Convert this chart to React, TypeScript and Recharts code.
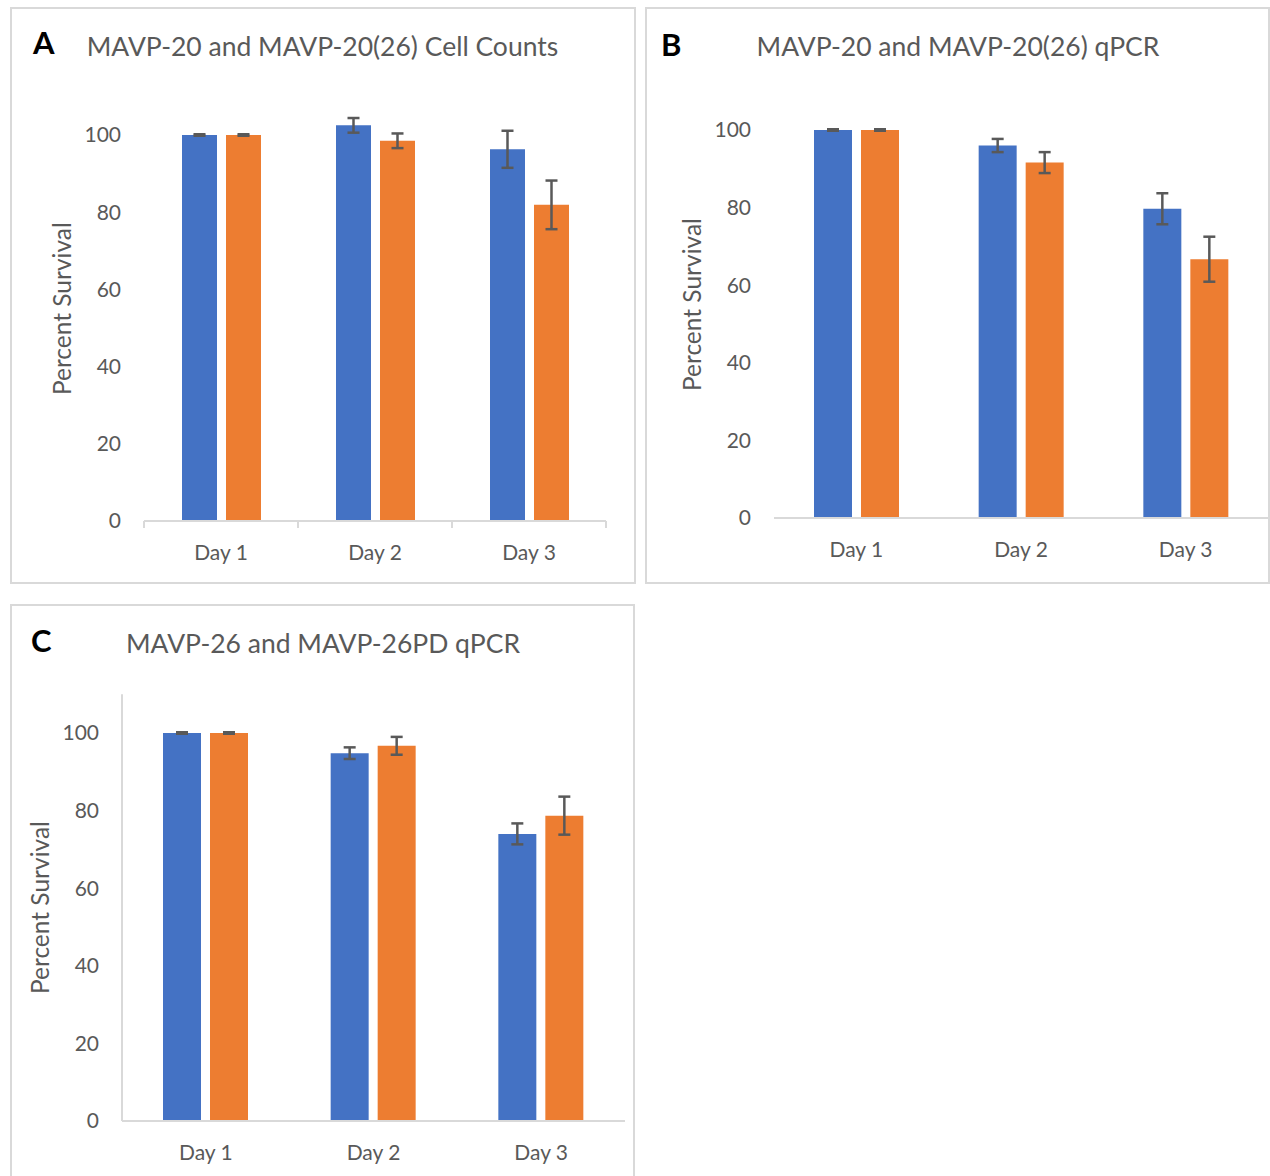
import { BarChart, Bar, XAxis, YAxis, ErrorBar } from 'recharts'

const days = ['Day 1', 'Day 2', 'Day 3']
const survivalTicks = [0, 20, 40, 60, 80, 100]

// A: MAVP-20 vs MAVP-20(26), cell counts
const countsMavp20 = [100, 102.5, 96.3]
const countsMavp20Err = [0.2, 1.9, 4.8]
const countsMavp2026 = [100, 98.5, 81.9]
const countsMavp2026Err = [0.2, 1.9, 6.3]

// B: MAVP-20 vs MAVP-20(26), qPCR
const qpcrMavp20 = [100, 96.0, 79.7]
const qpcrMavp20Err = [0.2, 1.7, 4.0]
const qpcrMavp2026 = [100, 91.6, 66.7]
const qpcrMavp2026Err = [0.2, 2.7, 5.8]

// C: MAVP-26 vs MAVP-26PD, qPCR
const qpcrMavp26 = [100, 94.8, 74.0]
const qpcrMavp26Err = [0.2, 1.5, 2.7]
const qpcrMavp26pd = [100, 96.7, 78.7]
const qpcrMavp26pdErr = [0.2, 2.3, 4.9]

const BLUE = '#4472C4'
const ORANGE = '#ED7D31'
const TEXT = '#595959'
const LINE = '#d9d9d9'
const FONT = 'Lato, "Open Sans", sans-serif'

const Y_AXIS_W = 60
const X_AXIS_H = 44

function rows(first: number[], firstErr: number[], second: number[], secondErr: number[]) {
  return days.map((day, i) => ({
    day,
    first: first[i],
    firstErr: firstErr[i],
    second: second[i],
    secondErr: secondErr[i],
  }))
}

interface Panel {
  letter: string
  title: string
  box: { left: number; top: number; width: number; height: number; noBottom?: boolean }
  plot: { left: number; right: number; bottom: number; y100: number }
  letterPos: { x: number; y: number }
  titlePos: { x: number; y: number }
  barSize: number
  barGap: number
  valueAxisLine: boolean
  bandMarks: boolean
  data: ReturnType<typeof rows>
}

const panels: Panel[] = [
  {
    letter: 'A',
    title: 'MAVP-20 and MAVP-20(26) Cell Counts',
    box: { left: 10, top: 7, width: 626, height: 577 },
    plot: { left: 144, right: 606, bottom: 521, y100: 135 },
    letterPos: { x: 33, y: 54 },
    titlePos: { x: 322.5, y: 56 },
    barSize: 35,
    barGap: 9,
    valueAxisLine: false,
    bandMarks: true,
    data: rows(countsMavp20, countsMavp20Err, countsMavp2026, countsMavp2026Err),
  },
  {
    letter: 'B',
    title: 'MAVP-20 and MAVP-20(26) qPCR',
    box: { left: 645, top: 7, width: 625, height: 577 },
    plot: { left: 774, right: 1268, bottom: 518, y100: 130 },
    letterPos: { x: 661, y: 56 },
    titlePos: { x: 958, y: 56 },
    barSize: 38,
    barGap: 9,
    valueAxisLine: false,
    bandMarks: false,
    data: rows(qpcrMavp20, qpcrMavp20Err, qpcrMavp2026, qpcrMavp2026Err),
  },
  {
    letter: 'C',
    title: 'MAVP-26 and MAVP-26PD qPCR',
    box: { left: 10, top: 604, width: 625, height: 572, noBottom: true },
    plot: { left: 122, right: 625, bottom: 1121, y100: 733 },
    letterPos: { x: 31, y: 652 },
    titlePos: { x: 323, y: 653 },
    barSize: 38,
    barGap: 9,
    valueAxisLine: true,
    bandMarks: false,
    data: rows(qpcrMavp26, qpcrMavp26Err, qpcrMavp26pd, qpcrMavp26pdErr),
  },
]

function DayTick(props: any) {
  const { x, y, payload, index, band, marks } = props
  return (
    <g>
      {marks && <line x1={x - band / 2} x2={x - band / 2} y1={y} y2={y + 7} stroke={LINE} strokeWidth={2} />}
      {marks && index === days.length - 1 && (
        <line x1={x + band / 2} x2={x + band / 2} y1={y} y2={y + 7} stroke={LINE} strokeWidth={2} />
      )}
      <text x={x} y={y + 39} textAnchor="middle" fill={TEXT} fontSize={21} fontFamily={FONT}>
        {payload.value}
      </text>
    </g>
  )
}

function SurvivalTitle(props: any) {
  const { viewBox } = props
  const cx = viewBox.x + viewBox.width - 82
  const cy = viewBox.y + viewBox.height / 2
  return (
    <text
      x={cx}
      y={cy}
      transform={`rotate(-90 ${cx} ${cy})`}
      textAnchor="middle"
      dominantBaseline="central"
      fill={TEXT}
      fontSize={24.5}
      fontFamily={FONT}
    >
      Percent Survival
    </text>
  )
}

function SurvivalPanel({ panel }: { panel: Panel }) {
  const { box, plot } = panel
  // value axis runs 0..110 with ticks every 20
  const top = plot.bottom - 1.1 * (plot.bottom - plot.y100)
  const margin = {
    left: plot.left - box.left - Y_AXIS_W,
    right: box.left + box.width - plot.right,
    top: top - box.top,
    bottom: box.top + box.height - plot.bottom - X_AXIS_H,
  }
  const band = (plot.right - plot.left) / days.length
  return (
    <>
      <div
        style={{
          position: 'absolute',
          left: box.left,
          top: box.top,
          width: box.width,
          height: box.height,
          boxSizing: 'border-box',
          border: `2px solid ${LINE}`,
          borderBottom: box.noBottom ? 'none' : `2px solid ${LINE}`,
        }}
      />
      <div style={{ position: 'absolute', left: box.left, top: box.top }}>
        <BarChart
          width={box.width}
          height={box.height}
          data={panel.data}
          margin={margin}
          barSize={panel.barSize}
          barGap={panel.barGap}
        >
          <XAxis
            dataKey="day"
            height={X_AXIS_H}
            axisLine={{ stroke: LINE, strokeWidth: 2 }}
            tickLine={false}
            tickSize={0}
            tickMargin={0}
            interval={0}
            tick={<DayTick band={band} marks={panel.bandMarks} />}
          />
          <YAxis
            width={Y_AXIS_W}
            domain={[0, 110]}
            ticks={survivalTicks}
            allowDataOverflow
            axisLine={panel.valueAxisLine ? { stroke: LINE, strokeWidth: 2 } : false}
            tickLine={false}
            tickSize={0}
            tickMargin={23}
            tick={{ fill: TEXT, fontSize: 21, fontFamily: FONT }}
            label={<SurvivalTitle />}
          />
          <Bar dataKey="first" fill={BLUE} isAnimationActive={false}>
            <ErrorBar dataKey="firstErr" width={6} stroke={TEXT} strokeWidth={2.5} isAnimationActive={false} />
          </Bar>
          <Bar dataKey="second" fill={ORANGE} isAnimationActive={false}>
            <ErrorBar dataKey="secondErr" width={6} stroke={TEXT} strokeWidth={2.5} isAnimationActive={false} />
          </Bar>
        </BarChart>
      </div>
    </>
  )
}

export default function App() {
  return (
    <div style={{ position: 'absolute', left: 0, top: 0, width: 1270, height: 1176, background: '#fff', overflow: 'hidden' }}>
      {panels.map((p) => (
        <SurvivalPanel key={p.letter} panel={p} />
      ))}
      <svg width={1270} height={1176} style={{ position: 'absolute', left: 0, top: 0, pointerEvents: 'none' }}>
        {panels.map((p) => (
          <g key={p.letter}>
            <text x={p.letterPos.x} y={p.letterPos.y} fontSize={31} fontWeight={700} fontFamily={FONT} fill="#000">
              {p.letter}
            </text>
            <text x={p.titlePos.x} y={p.titlePos.y} textAnchor="middle" fontSize={26.5} fontFamily={FONT} fill={TEXT}>
              {p.title}
            </text>
          </g>
        ))}
      </svg>
    </div>
  )
}
